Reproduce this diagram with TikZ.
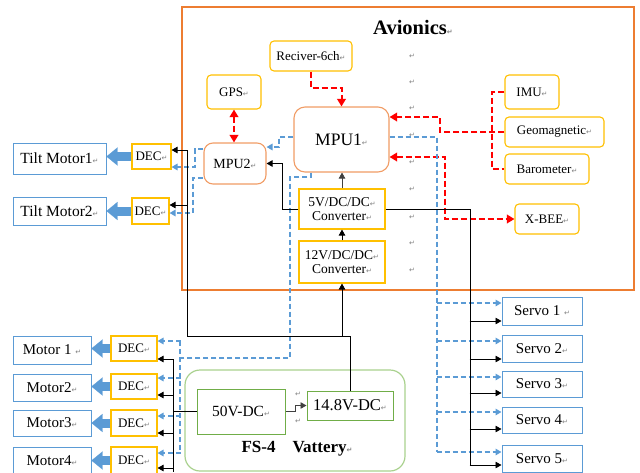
\documentclass[tikz,border=0pt]{standalone}
\usepackage{fontspec}
\setmainfont{Liberation Serif}
\newfontfamily\dejavu{DejaVu Sans}
\usetikzlibrary{arrows.meta,calc}
\definecolor{orng}{HTML}{ED7D31}
\definecolor{olight}{HTML}{F19C65}
\definecolor{ygold}{HTML}{FFC000}
\definecolor{bblue}{HTML}{5B9BD5}
\definecolor{ggreen}{HTML}{70AD47}
\definecolor{glight}{HTML}{A9D18E}
\definecolor{pmgray}{HTML}{808080}
\definecolor{dgray}{HTML}{404040}
\definecolor{rred}{HTML}{FF0000}
\newcommand\fsz[1]{\fontsize{#1}{#1}\selectfont}
\newcommand\parmk{{\dejavu\fontsize{7}{7}\selectfont\textcolor{pmgray}{↵}}}
\begin{document}
\begin{tikzpicture}[x=1pt,y=-1pt,
  every node/.style={inner sep=0pt, align=center},
  ybox/.style={draw=ygold, line width=1.1pt, fill=white, rounded corners=4pt, font=\fsz{13}},
  ysq/.style={draw=ygold, line width=1.1pt, fill=white, font=\fsz{13.5}},
  obox/.style={draw=olight, line width=1.1pt, fill=white, rounded corners=9pt},
  bbox/.style={draw=bblue, line width=1pt, fill=white, font=\fsz{15}},
  gbox/.style={draw=ggreen, line width=1pt, fill=white, font=\fsz{15.5}},
  reddash/.style={draw=rred, line width=2pt, dash pattern=on 6pt off 3pt},
  bluedash/.style={draw=bblue, line width=1.5pt, dash pattern=on 5pt off 3pt},
  wire/.style={draw=black, line width=0.9pt},
  kt/.style={-{Triangle[length=6pt,width=6.5pt]}},
  rt/.style={-{Triangle[length=7.5pt,width=8.5pt]}},
  rtt/.style={{Triangle[length=7.5pt,width=8.5pt]}-{Triangle[length=7.5pt,width=8.5pt]}},
  blk/.style={draw=bblue, line width=9pt, -{Triangle[length=11pt,width=18pt,line width=0.1pt]}},
  pmk/.style={}]
\useasboundingbox (0,0) rectangle (640,472);

% containers
\node[draw=orng, line width=1.1pt, minimum width=452pt, minimum height=283pt] (avi) at (408,148.5) {};
\node[font=\bfseries\fsz{20.5}] (avit) at (413,27) {Avionics\parmk};
\node[draw=glight, line width=1.2pt, rounded corners=15pt, minimum width=220pt, minimum height=101pt] (bat) at (295,420.5) {};
\node[font=\bfseries\fsz{17}] (batt) at (297,449) {FS-4\hspace{17pt}Vattery\parmk};

% paragraph marks
\foreach \yy in {56,82,108,135,162,189,217,243,270} \node[pmk] (pm\yy) at (412,\yy) {\parmk};
\node[pmk] (pma) at (298,394) {\parmk};
\node[pmk] (pmb) at (298,421) {\parmk};

% avionics nodes
\node[ybox, minimum width=82pt, minimum height=30pt] (recv) at (311,56) {Reciver-6ch\parmk};
\node[ybox, minimum width=54pt, minimum height=34pt] (gps) at (234,92) {GPS\parmk};
\node[obox, minimum width=62pt, minimum height=41pt, font=\fsz{14}] (mpu2) at (235,163.5) {MPU2\parmk};
\node[obox, rounded corners=11pt, minimum width=95pt, minimum height=65pt, font=\fsz{17.5}] (mpu1) at (341.5,139.5) {MPU1\parmk};
\node[ysq, minimum width=86pt, minimum height=40pt] (c5) at (342,209) {\fontsize{13.5}{13}\selectfont 5V/DC/DC\parmk\\Converter\parmk};
\node[ysq, minimum width=86pt, minimum height=42pt] (c12) at (342,262) {\fontsize{13.5}{13}\selectfont 12V/DC/DC\parmk\\Converter\parmk};
\node[ybox, minimum width=54pt, minimum height=34pt] (imu) at (532,92) {IMU\parmk};
\node[ybox, minimum width=99pt, minimum height=30pt] (geo) at (554.5,132) {Geomagnetic\parmk};
\node[ybox, minimum width=84pt, minimum height=30pt] (baro) at (547,169) {Barometer\parmk};
\node[ybox, minimum width=64pt, minimum height=30pt] (xbee) at (547,219) {X-BEE\parmk};

% tilt motors
\node[bbox, minimum width=93pt, minimum height=31pt, font=\fsz{15.5}] (tm1) at (59.5,158.5) {Tilt Motor1\parmk};
\node[bbox, minimum width=93pt, minimum height=28pt, font=\fsz{15.5}] (tm2) at (59.5,211) {Tilt Motor2\parmk};
\node[ysq, minimum width=39pt, minimum height=25pt, font=\fsz{13}] (td1) at (151.5,156.5) {DEC\parmk};
\node[ysq, minimum width=37pt, minimum height=26pt, font=\fsz{13}] (td2) at (150.5,211) {DEC\parmk};

% motors
\node[bbox, minimum width=78pt, minimum height=28pt] (m1) at (52,350) {Motor 1 \parmk};
\node[bbox, minimum width=78pt, minimum height=27pt] (m2) at (52,387.5) {Motor2\parmk};
\node[bbox, minimum width=78pt, minimum height=26pt] (m3) at (52,423) {Motor3\parmk};
\node[bbox, minimum width=78pt, minimum height=27pt] (m4) at (52,460.5) {Motor4\parmk};
\node[ysq, minimum width=46pt, minimum height=25pt, font=\fsz{13}] (d1) at (134,348.5) {DEC\parmk};
\node[ysq, minimum width=46pt, minimum height=25pt, font=\fsz{13}] (d2) at (134,386.5) {DEC\parmk};
\node[ysq, minimum width=46pt, minimum height=26pt, font=\fsz{13}] (d3) at (134,423) {DEC\parmk};
\node[ysq, minimum width=46pt, minimum height=27pt, font=\fsz{13}] (d4) at (134,460.5) {DEC\parmk};

% servos
\node[bbox, minimum width=80pt, minimum height=28pt] (s1) at (542,311) {Servo 1 \parmk};
\node[bbox, minimum width=80pt, minimum height=27pt] (s2) at (542,348.5) {Servo 2\parmk};
\node[bbox, minimum width=80pt, minimum height=26pt] (s3) at (542,384) {Servo 3\parmk};
\node[bbox, minimum width=80pt, minimum height=26pt] (s4) at (542,420) {Servo 4\parmk};
\node[bbox, minimum width=80pt, minimum height=27pt] (s5) at (542,458.5) {Servo 5\parmk};

% battery nodes
\node[gbox, minimum width=88pt, minimum height=45pt] (v50) at (241,411.5) {50V-DC\parmk};
\node[gbox, minimum width=86pt, minimum height=29pt, font=\fsz{16.5}] (v148) at (350,405.5) {14.8V-DC\parmk};

% red dashed
\draw[reddash, rt] (recv.south) -- (311,88) -- (341.5,88) -- (mpu1.north);
\draw[reddash, rtt] (gps.south) -- (gps.south |- mpu2.north);
\draw[reddash] (imu.west) -- (492,92) -- (492,169) -- (baro.west);
\draw[reddash, rt] (geo.west) -- (440,132) -- (440,117) -- ($(mpu1.east)+(0,-22.5)$);
\draw[reddash, rtt] ($(mpu1.east)+(0,17.5)$) -- (445,157) -- (445,219) -- (xbee.west);

% block arrows DEC -> motors
\foreach \dd/\mm in {td1/tm1, td2/tm2, d1/m1, d2/m2, d3/m3, d4/m4}
  \draw[blk] (\dd.west) -- (\mm.east |- \dd.west);

% blue dashed
\draw[bluedash, kt] ($(mpu1.west)+(0,-2.5)$) -- (279,137) -- (279,147) -- ($(mpu2.east)+(0,-16.5)$);
\draw[bluedash, kt] ($(mpu2.west)+(0,-14.5)$) -- (195,149) -- (195,167) -- ($(td1.east)+(0,10.5)$);
\draw[bluedash, kt] ($(mpu2.west)+(0,14.5)$) -- (193,178) -- (193,213) -- ($(td2.east)+(0,2)$);
\draw[bluedash] ($(mpu1.east)+(0,-2.5)$) -- (437,137) -- (437,452);
\foreach \i/\od in {1/-8, 2/-7.5, 3/-7, 4/-8, 5/-6.5}
  \draw[bluedash, kt] ($(s\i.west)+(-65,\od)$) -- ($(s\i.west)+(0,\od)$);
\draw[bluedash] ($(mpu1.south)+(-30.5,0)$) -- (311,177) -- (290,177) -- (290,358) -- (180,358);
\draw[bluedash] (180,341) -- (180,453);
\foreach \i/\od in {1/-7.5, 2/-8.5, 3/-7, 4/-7.5}
  \draw[bluedash, kt] ($(d\i.east)+(23,\od)$) -- ($(d\i.east)+(0,\od)$);

% black power wires
\draw[wire] (187,150) -- (187,336) -- (350,336) -- (v148.north);
\draw[wire, kt] (187,150) -- ($(td1.east)+(0,-6.5)$);
\draw[wire, kt] (187,205) -- ($(td2.east)+(0,-6)$);
\draw[wire, kt] (342,336) -- (c12.south);
\draw[wire, kt] (c12.north) -- (c5.south);
\draw[wire, draw=dgray, kt] (c5.north) -- (c5.north |- mpu1.south);
\draw[wire, kt] (c5.west) -| ($(mpu2.east)+(16,0)$) -- (mpu2.east);
\draw[wire] (c5.east) -- (470,209) -- (470,465);
\foreach \i/\ob in {1/10, 2/10.5, 3/9, 4/9, 5/6.5}
  \draw[wire, kt] ($(s\i.west)+(-32,\ob)$) -- ($(s\i.west)+(0,\ob)$);
\draw[wire, line width=1.6pt] (v50.west) -- ++(-24,0);
\draw[wire] (173,359) -- (173,472);
\foreach \i/\ob in {1/10.5, 2/8.5, 3/10, 4/7.5}
  \draw[wire, kt] ($(d\i.east)+(16,\ob)$) -- ($(d\i.east)+(0,\ob)$);
\draw[wire, draw=dgray, kt] (v50.east) -- (295,411.5) -- (295,405.5) -- (v148.west);
\end{tikzpicture}
\end{document}
